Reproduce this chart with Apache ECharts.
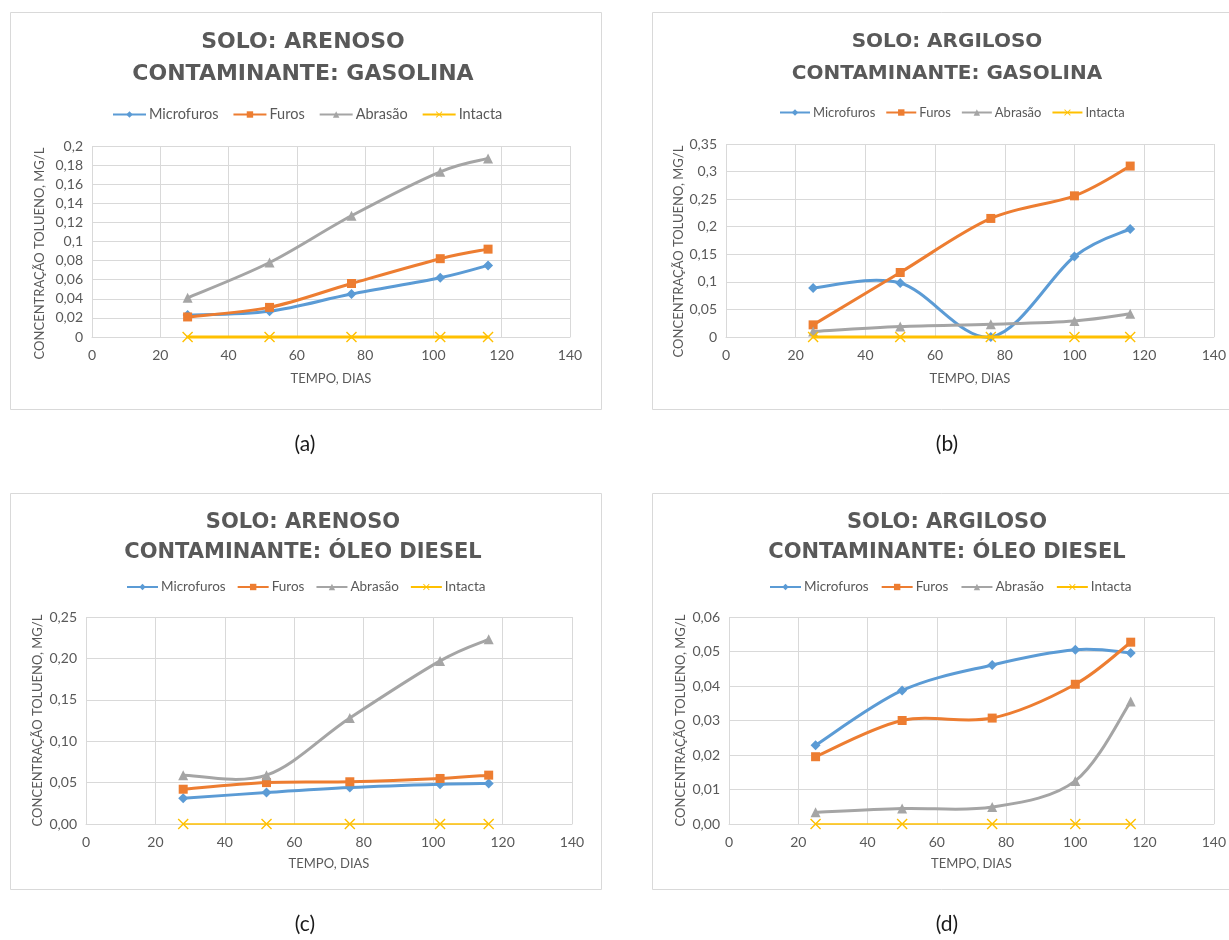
<!DOCTYPE html>
<html>
<head>
<meta charset="utf-8">
<title>Concentração de tolueno</title>
<script src="https://cdn.jsdelivr.net/npm/echarts@6.0.0/dist/echarts.min.js"></script>
<style>
  html, body { margin: 0; padding: 0; background: #ffffff; }
  #chart { width: 1229px; height: 940px; }
</style>
</head>
<body>
<div id="chart"></div>
<script>
// ---- Data -------------------------------------------------------------
const seriesNames = ['Microfuros', 'Furos', 'Abrasão', 'Intacta'];
const xTickLabels = ['0', '20', '40', '60', '80', '100', '120', '140'];

// (a) Solo arenoso, gasolina
const daysA = [28, 52, 76, 102, 116];
const microfurosA = [0.023, 0.027, 0.045, 0.062, 0.075];
const furosA = [0.021, 0.031, 0.056, 0.082, 0.092];
const abrasaoA = [0.041, 0.078, 0.127, 0.173, 0.187];
const intactaA = [0, 0, 0, 0, 0];
const yTicksA = ['0', '0,02', '0,04', '0,06', '0,08', '0,1', '0,12', '0,14', '0,16', '0,18', '0,2'];

// (b) Solo argiloso, gasolina
const daysB = [25, 50, 76, 100, 116];
const microfurosB = [0.089, 0.098, 0.0, 0.146, 0.196];
const furosB = [0.022, 0.117, 0.215, 0.256, 0.310];
const abrasaoB = [0.010, 0.019, 0.023, 0.029, 0.042];
const intactaB = [0, 0, 0, 0, 0];
const yTicksB = ['0', '0,05', '0,1', '0,15', '0,2', '0,25', '0,3', '0,35'];

// (c) Solo arenoso, óleo diesel
const daysC = [28, 52, 76, 102, 116];
const microfurosC = [0.031, 0.038, 0.044, 0.048, 0.049];
const furosC = [0.042, 0.050, 0.051, 0.055, 0.059];
const abrasaoC = [0.059, 0.059, 0.128, 0.197, 0.223];
const intactaC = [0, 0, 0, 0, 0];
const yTicksC = ['0,00', '0,05', '0,10', '0,15', '0,20', '0,25'];

// (d) Solo argiloso, óleo diesel
const daysD = [25, 50, 76, 100, 116];
const microfurosD = [0.0228, 0.0387, 0.0461, 0.0505, 0.0496];
const furosD = [0.0195, 0.0300, 0.0307, 0.0405, 0.0527];
const abrasaoD = [0.0034, 0.0045, 0.0049, 0.0125, 0.0355];
const intactaD = [0, 0, 0, 0, 0];
const yTicksD = ['0,00', '0,01', '0,02', '0,03', '0,04', '0,05', '0,06'];

// ---- Styling ----------------------------------------------------------
const COLORS = ['#5B9BD5', '#ED7D31', '#A5A5A5', '#FFC000'];
const TEXT = '#595959';
const GRID_LINE = '#D9D9D9';
const FONT = 'Lato, "Noto Sans", sans-serif';
const TITLE_FONT = '"DejaVu Sans", sans-serif';
const CROSS = 'path://M0,0.9L0.9,0L5,4.1L9.1,0L10,0.9L5.9,5L10,9.1L9.1,10L5,5.9L0.9,10L0,9.1L4.1,5Z';
const SYMBOLS = ['diamond', 'rect', 'triangle', CROSS];
const SYMBOL_SIZES = [10, 9, 10, 11];

const panels = [
  {
    title: 'SOLO: ARENOSO\nCONTAMINANTE: GASOLINA', caption: '(a)',
    days: daysA, values: [microfurosA, furosA, abrasaoA, intactaA],
    yMax: 0.2, yStep: 0.02, yTicks: yTicksA,
    box: [10, 12, 591, 397], titleX: 303, titleY: 26, titleSize: 22, titleLH: 32,
    legendX: 112, legendY: 107, legendSize: 14.5, legendGap: 14, legendW: 33,
    grid: { left: 92, top: 146, width: 478, height: 191 },
    yNameGap: 46, yNameShift: 24, xNameGap: 35, intactaWidth: 3, captionX: 305, captionY: 444
  },
  {
    title: 'SOLO: ARGILOSO\nCONTAMINANTE: GASOLINA', caption: '(b)',
    days: daysB, values: [microfurosB, furosB, abrasaoB, intactaB],
    yMax: 0.35, yStep: 0.05, yTicks: yTicksB,
    box: [652, 12, 600, 397], titleX: 947, titleY: 26, titleSize: 20, titleLH: 32,
    legendX: 779, legendY: 106, legendSize: 13, legendGap: 10, legendW: 30,
    grid: { left: 726, top: 144, width: 491, height: 193 },
    yNameGap: 40, yNameShift: 22, xNameGap: 35, intactaWidth: 3, captionX: 947, captionY: 444
  },
  {
    title: 'SOLO: ARENOSO\nCONTAMINANTE: ÓLEO DIESEL', caption: '(c)',
    days: daysC, values: [microfurosC, furosC, abrasaoC, intactaC],
    yMax: 0.25, yStep: 0.05, yTicks: yTicksC,
    box: [10, 493, 591, 396], titleX: 303, titleY: 508, titleSize: 21, titleLH: 30,
    legendX: 126, legendY: 580, legendSize: 13.5, legendGap: 11, legendW: 31,
    grid: { left: 86, top: 617, width: 486, height: 207 },
    yNameGap: 42, yNameShift: 0, xNameGap: 33, intactaWidth: 1.5, captionX: 305, captionY: 924
  },
  {
    title: 'SOLO: ARGILOSO\nCONTAMINANTE: ÓLEO DIESEL', caption: '(d)',
    days: daysD, values: [microfurosD, furosD, abrasaoD, intactaD],
    yMax: 0.06, yStep: 0.01, yTicks: yTicksD,
    box: [652, 493, 600, 396], titleX: 947, titleY: 508, titleSize: 21, titleLH: 30,
    legendX: 769, legendY: 580, legendSize: 13.5, legendGap: 12, legendW: 31,
    grid: { left: 729, top: 617, width: 486, height: 207 },
    yNameGap: 42, yNameShift: 0, xNameGap: 33, intactaWidth: 1.5, captionX: 947, captionY: 924
  }
];

// Smoothed line drawn as cubic Bézier segments (Catmull-Rom tangents in pixel space),
// one segment per data point, between point i and point i+1.
function splineRenderer(color, width) {
  return function (params, api) {
    const i = params.dataIndexInside;
    const n = params.dataInsideLength;
    if (i >= n - 1) return null;
    const pt = (j) => {
      const k = Math.max(0, Math.min(n - 1, j));
      return api.coord([api.value(0, k), api.value(1, k)]);
    };
    const p0 = pt(i - 1), p1 = pt(i), p2 = pt(i + 1), p3 = pt(i + 2);
    return {
      type: 'bezierCurve',
      silent: true,
      shape: {
        x1: p1[0], y1: p1[1], x2: p2[0], y2: p2[1],
        cpx1: p1[0] + (p2[0] - p0[0]) / 6, cpy1: p1[1] + (p2[1] - p0[1]) / 6,
        cpx2: p2[0] - (p3[0] - p1[0]) / 6, cpy2: p2[1] - (p3[1] - p1[1]) / 6
      },
      style: { stroke: color, lineWidth: width, fill: null, lineCap: 'round' }
    };
  };
}

// ---- Option assembly --------------------------------------------------
const option = {
  backgroundColor: '#ffffff',
  animation: false,
  title: [], legend: [], grid: [], xAxis: [], yAxis: [], series: [],
  graphic: []
};

panels.forEach((p, k) => {
  // panel frame
  option.graphic.push({
    type: 'rect', silent: true, z: -10,
    shape: { x: p.box[0] + 0.5, y: p.box[1] + 0.5, width: p.box[2], height: p.box[3] },
    style: { fill: '#ffffff', stroke: GRID_LINE, lineWidth: 1 }
  });
  // caption under the panel
  option.graphic.push({
    type: 'text', silent: true,
    x: p.captionX, y: p.captionY,
    style: { text: p.caption, fill: '#1a1a1a', font: '21px ' + FONT, align: 'center', verticalAlign: 'middle' }
  });

  option.title.push({
    text: p.title, left: p.titleX, top: p.titleY, textAlign: 'center', padding: 0,
    textStyle: { color: TEXT, fontFamily: TITLE_FONT, fontWeight: 'bold', fontSize: p.titleSize, lineHeight: p.titleLH }
  });

  option.legend.push({
    data: seriesNames, left: p.legendX, top: p.legendY, padding: 0,
    itemWidth: p.legendW, itemHeight: 8, itemGap: p.legendGap,
    lineStyle: { opacity: 1 },
    textStyle: { color: TEXT, fontFamily: FONT, fontSize: p.legendSize, padding: [0, 0, 0, -2] },
    selectedMode: false
  });

  option.grid.push(Object.assign({ containLabel: false }, p.grid));

  option.xAxis.push({
    type: 'value', gridIndex: k, min: 0, max: 140, interval: 20,
    name: 'TEMPO, DIAS', nameLocation: 'middle', nameGap: p.xNameGap,
    nameTextStyle: { color: TEXT, fontFamily: FONT, fontSize: 13 },
    axisLine: { show: true, lineStyle: { color: GRID_LINE, width: 1 } },
    axisTick: { show: false },
    axisLabel: {
      color: TEXT, fontFamily: FONT, fontSize: 14, margin: 11,
      formatter: (v) => xTickLabels[Math.round(v / 20)]
    },
    splitLine: { show: true, lineStyle: { color: GRID_LINE, width: 1 } }
  });

  option.yAxis.push({
    type: 'value', gridIndex: k, min: 0, max: p.yMax, interval: p.yStep,
    name: 'CONCENTRAÇÃO TOLUENO, MG/L', nameLocation: 'middle', nameRotate: 90, nameGap: p.yNameGap,
    nameTextStyle: { color: TEXT, fontFamily: FONT, fontSize: 13, padding: [0, p.yNameShift, 0, 0] },
    axisLine: { show: false },
    axisTick: { show: false },
    axisLabel: {
      color: TEXT, fontFamily: FONT, fontSize: 14, margin: 9,
      formatter: (v) => p.yTicks[Math.round(v / p.yStep)]
    },
    splitLine: { show: true, lineStyle: { color: GRID_LINE, width: 1 } }
  });

  seriesNames.forEach((name, s) => {
    const width = s === 3 ? p.intactaWidth : 3;
    const points = p.days.map((d, i) => [d, p.values[s][i]]);
    // markers (and legend entry); the connecting curve is drawn by the custom series below
    option.series.push({
      type: 'line', name: name,
      xAxisIndex: k, yAxisIndex: k,
      data: points,
      symbol: SYMBOLS[s], symbolSize: SYMBOL_SIZES[s],
      showAllSymbol: true,
      lineStyle: { color: COLORS[s], width: width, opacity: 0 },
      itemStyle: { color: COLORS[s] },
      emphasis: { disabled: true },
      z: 10 + 2 * s + 1
    });
    option.series.push({
      type: 'custom', name: name,
      coordinateSystem: 'cartesian2d',
      xAxisIndex: k, yAxisIndex: k,
      data: points,
      encode: { x: 0, y: 1 },
      renderItem: splineRenderer(COLORS[s], width),
      z: 10 + 2 * s
    });
  });
});

const chart = echarts.init(document.getElementById('chart'), null, { renderer: 'canvas' });
chart.setOption(option);
</script>
</body>
</html>
